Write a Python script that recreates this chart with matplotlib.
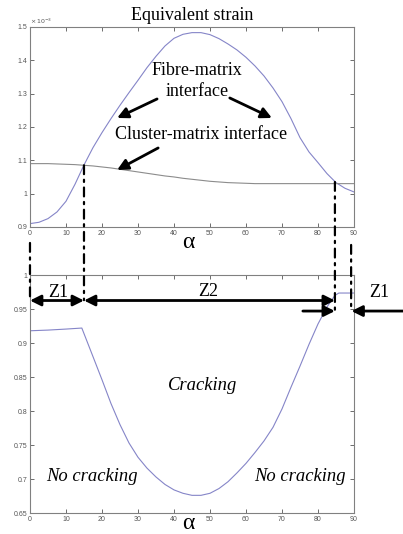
import matplotlib
matplotlib.use('Agg')
import matplotlib.pyplot as plt
from matplotlib.patches import ConnectionPatch

# angle alpha (deg)
alpha = [0, 2.5, 5, 7.5, 10, 12.5, 15, 17.5, 20, 22.5, 25, 27.5, 30, 32.5, 35, 37.5, 40,
         42.5, 45, 47.5, 50, 52.5, 55, 57.5, 60, 62.5, 65, 67.5, 70, 72.5, 75, 77.5, 80,
         82.5, 85, 87.5, 90]
# equivalent strain (x 1e-3)
fibre = [0.910, 0.914, 0.925, 0.945, 0.977, 1.028, 1.086, 1.138, 1.183, 1.225, 1.265,
         1.303, 1.340, 1.378, 1.412, 1.443, 1.466, 1.478, 1.483, 1.483, 1.477, 1.465,
         1.449, 1.431, 1.409, 1.383, 1.353, 1.317, 1.276, 1.225, 1.168, 1.125, 1.093,
         1.060, 1.033, 1.016, 1.005]
cluster = [1.090, 1.090, 1.090, 1.089, 1.088, 1.087, 1.085, 1.083, 1.080, 1.077, 1.073,
           1.069, 1.065, 1.061, 1.057, 1.053, 1.050, 1.046, 1.043, 1.040, 1.037, 1.035,
           1.033, 1.032, 1.031, 1.030, 1.030, 1.030, 1.030, 1.030, 1.030, 1.030, 1.030,
           1.030, 1.030, 1.030, 1.030]
# lower panel
alpha2 = [0, 5, 10, 14.4, 17.5, 20, 22.5, 25, 27.5, 30, 32.5, 35, 37.5, 40, 42.5, 45,
          47.5, 50, 52.5, 55, 57.5, 60, 62.5, 65, 67.5, 70, 72.5, 75, 77.5, 80, 82.5,
          84.7, 85.8, 90]
ratio = [0.918, 0.919, 0.9205, 0.922, 0.880, 0.846, 0.811, 0.780, 0.753, 0.732, 0.716,
         0.703, 0.692, 0.684, 0.679, 0.676, 0.676, 0.679, 0.686, 0.696, 0.709, 0.723,
         0.739, 0.756, 0.776, 0.803, 0.835, 0.866, 0.898, 0.928, 0.953, 0.970, 0.9735,
         0.9735]

cross1, cross2 = 15, 84.7
x_ticks = list(range(0, 91, 10))
y1_ticks = [0.9, 1.0, 1.1, 1.2, 1.3, 1.4, 1.5]
y1_labels = ['0.9', '1', '1.1', '1.2', '1.3', '1.4', '1.5']
y2_ticks = [0.65, 0.7, 0.75, 0.8, 0.85, 0.9, 0.95, 1.0]
y2_labels = ['0.65', '0.7', '0.75', '0.8', '0.85', '0.9', '0.95', '1']

serif = ['Liberation Serif', 'DejaVu Serif']
gray = '#808080'

fig = plt.figure(figsize=(4.03, 5.34), dpi=100)
ax1 = fig.add_axes([0.0744, 0.575, 0.804, 0.3745])
ax2 = fig.add_axes([0.0744, 0.0393, 0.804, 0.4457])

for ax in (ax1, ax2):
    ax.set_xlim(0, 90)
    ax.set_xticks(x_ticks)
    ax.set_xticklabels([str(t) for t in x_ticks])
    ax.tick_params(direction='in', length=3, width=0.6, colors='#555555', labelsize=5,
                   top=True, right=True, pad=2)
    for s in ax.spines.values():
        s.set_color(gray)
        s.set_linewidth(0.8)
    for lab in ax.get_xticklabels() + ax.get_yticklabels():
        lab.set_family('Liberation Sans')

ax1.set_ylim(0.9, 1.5)
ax1.set_yticks(y1_ticks)
ax1.set_yticklabels(y1_labels)
ax2.set_ylim(0.65, 1.0)
ax2.set_yticks(y2_ticks)
ax2.set_yticklabels(y2_labels)

ax1.plot(alpha, fibre, color='#8585c8', lw=0.8)
ax1.plot(alpha, cluster, color='#8c8c8c', lw=0.8)
ax2.plot(alpha2, ratio, color='#8585c8', lw=0.8)

ax1.text(0.0, 1.005, r'$\times\,10^{-3}$', transform=ax1.transAxes, fontsize=4.5,
         color='#555555', va='bottom', ha='left')

ax1.set_title('Equivalent strain', family=serif, fontsize=13, pad=5)
ax1.text(0.49, -0.08, 'α', transform=ax1.transAxes, ha='center', va='center',
         family=serif, fontsize=17)
ax2.text(0.49, -0.045, 'α', transform=ax2.transAxes, ha='center', va='center',
         family=serif, fontsize=17)

tp = dict(family=serif, fontsize=13, ha='center', va='center')
ax1.text(46.4, 1.338, 'Fibre-matrix\ninterface', linespacing=1.25, **tp)
ax1.text(47.5, 1.176, 'Cluster-matrix interface', **tp)

ap = dict(arrowstyle='-|>', lw=2, color='k', mutation_scale=16, shrinkA=0, shrinkB=0)
ax1.annotate('', xy=(24.2, 1.227), xytext=(35.3, 1.284), arrowprops=ap)
ax1.annotate('', xy=(67.2, 1.227), xytext=(55.5, 1.287), arrowprops=ap)
ax1.annotate('', xy=(24.2, 1.071), xytext=(35.6, 1.137), arrowprops=ap)

# dash-dot boundaries through both panels
dd = dict(color='k', lw=1.6, linestyle=(0, (4, 2.5, 1, 2.5)))
for x0, y_top, y_bot in [(cross1, 1.085, 0.963), (cross2, 1.035, 0.949),
                         (0, 0.852, 0.963), (89.2, 0.846, 0.952)]:
    con = ConnectionPatch(xyA=(x0, y_top), coordsA=ax1.transData,
                          xyB=(x0, y_bot), coordsB=ax2.transData, **dd)
    fig.add_artist(con)
    con.set_clip_on(False)

# zone arrows
dap = dict(arrowstyle='<|-|>', lw=2, color='k', mutation_scale=16, shrinkA=0, shrinkB=0)
ax2.annotate('', xy=(0, 0.9625), xytext=(cross1, 0.9625), arrowprops=dap,
             annotation_clip=False)
ax2.annotate('', xy=(cross1, 0.9625), xytext=(cross2, 0.9625), arrowprops=dap,
             annotation_clip=False)
ax2.annotate('', xy=(cross2, 0.947), xytext=(75.8, 0.947), arrowprops=ap,
             annotation_clip=False)
ax2.annotate('', xy=(89.3, 0.947), xytext=(103.6, 0.947), arrowprops=ap,
             annotation_clip=False)

ax2.text(7.9, 0.9745, 'Z1', **tp)
ax2.text(49.5, 0.9755, 'Z2', **tp)
ax2.text(96.9, 0.9745, 'Z1', clip_on=False, **tp)

it = dict(family=serif, fontsize=13.4, style='italic', ha='center', va='center')
ax2.text(48.1, 0.838, 'Cracking', **it)
ax2.text(17.2, 0.704, 'No cracking', **it)
ax2.text(75, 0.704, 'No cracking', **it)

fig.savefig('out.png', dpi=100)
